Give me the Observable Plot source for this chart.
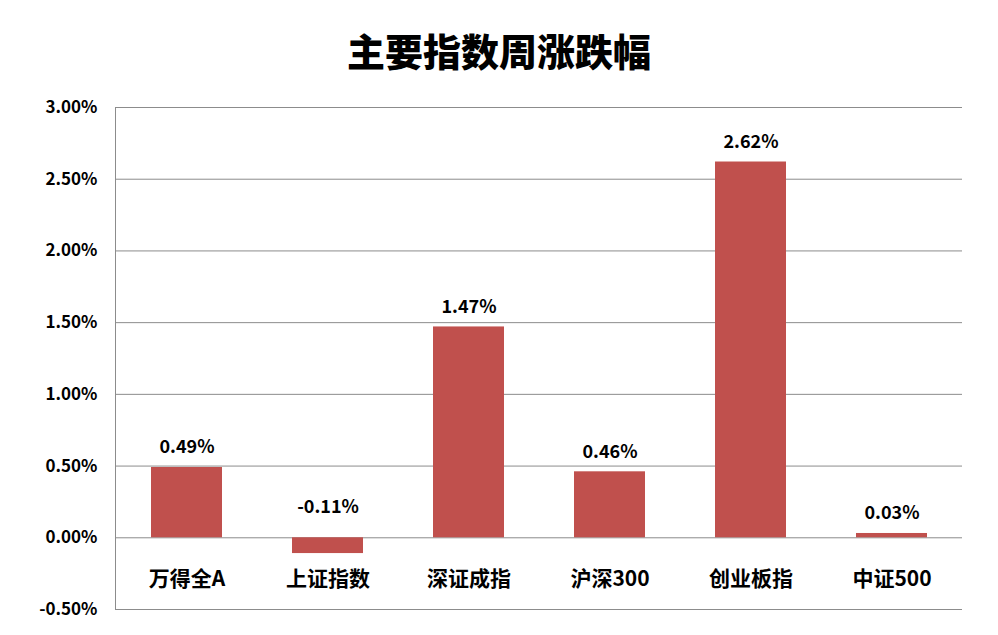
<!DOCTYPE html>
<html>
<head>
<meta charset="utf-8">
<script src="https://cdn.jsdelivr.net/npm/d3@7"></script>
<script src="https://cdn.jsdelivr.net/npm/@observablehq/plot@0.6"></script>
<style>
  body { margin: 0; background: #fff; }
  #title { height: 90px; line-height: 100px; text-align: center; font-family: "Noto Sans CJK SC", sans-serif; font-weight: 900; font-size: 38px; color: #000; }
  #chart svg { display: block; }
</style>
</head>
<body>
<div id="title">主要指数周涨跌幅</div>
<div id="chart"></div>
<script>
const categories = ["万得全A", "上证指数", "深证成指", "沪深300", "创业板指", "中证500"];
const values = [0.49, -0.11, 1.47, 0.46, 2.62, 0.03];
const yTicks = [-0.5, 0, 0.5, 1.0, 1.5, 2.0, 2.5, 3.0];

const data = categories.map((c, i) => ({name: c, value: values[i]}));
const fmt = v => v.toFixed(2) + "%";
const font = "'Noto Sans CJK SC', 'DejaVu Sans', sans-serif";

const chart = Plot.plot({
  width: 998,
  height: 545,
  marginTop: 17,
  marginBottom: 26,
  marginLeft: 115,
  marginRight: 36,
  style: {fontFamily: font, fontWeight: "bold", fontSize: "16px", color: "#000"},
  x: {domain: categories, paddingInner: 0.5, paddingOuter: 0.25, axis: null},
  y: {domain: [-0.5, 3.0], ticks: yTicks, tickFormat: fmt, tickSize: 0, tickPadding: 18, label: null},
  marks: [
    Plot.ruleY(yTicks, {stroke: "#8c8c8c", strokeWidth: 1}),
    Plot.frame({anchor: "left", stroke: "#8c8c8c"}),
    Plot.barY(data, {x: "name", y: "value", fill: "#C0504D"}),
    Plot.text(data.filter(d => d.value >= 0), {x: "name", y: "value", text: d => fmt(d.value), dy: -20, fontSize: 18, fontWeight: "bold", fill: "#000"}),
    Plot.text(data.filter(d => d.value < 0), {x: "name", y: () => 0, text: d => fmt(d.value), dy: -31, fontSize: 18, fontWeight: "bold", fill: "#000"}),
    Plot.text(data, {x: "name", y: () => 0, text: "name", dy: 41, fontSize: 21, fontWeight: "bold", fill: "#000"}),
    Plot.axisY({ticks: yTicks, tickFormat: fmt, tickSize: 0, tickPadding: 18, fontSize: 17, fontWeight: "bold", fill: "#000"})
  ]
});
document.getElementById("chart").appendChild(chart);
</script>
</body>
</html>
